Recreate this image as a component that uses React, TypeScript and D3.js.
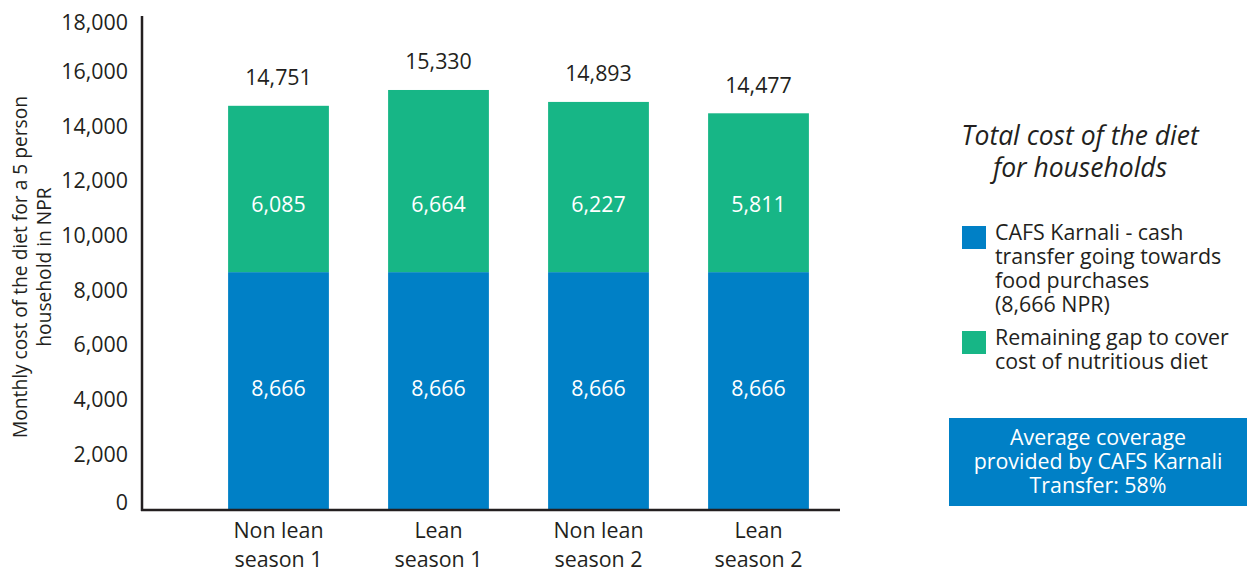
import React from "react";
import * as d3 from "d3";

const categories = [["Non lean", "season 1"], ["Lean", "season 1"], ["Non lean", "season 2"], ["Lean", "season 2"]];
const cafsValues = [8666, 8666, 8666, 8666];
const gapValues = [6085, 6664, 6227, 5811];
const totalValues = [14751, 15330, 14893, 14477];
const yTicks = [0, 2000, 4000, 6000, 8000, 10000, 12000, 14000, 16000, 18000];
const legendItems = [
  { key: "cafs", lines: ["CAFS Karnali - cash", "transfer going towards", "food purchases", "(8,666 NPR)"] },
  { key: "gap", lines: ["Remaining gap to cover", "cost of nutritious diet"] },
];
const titleLines = ["Total cost of the diet", "for households"];
const boxLines = ["Average coverage", "provided by CAFS Karnali", "Transfer: 58%"];
const yTitleLines = ["Monthly cost of the diet for a 5 person", "household in NPR"];

const BLUE = "#0080c6";
const GREEN = "#17b686";
const TEXT = "#231f20";
const FONT = "'Open Sans', 'Noto Sans', sans-serif";
const FS = 21.4;

export default function App() {
  const W = 1248, H = 572;
  const keys = categories.map((c) => c.join(" "));
  const x = d3.scaleBand<string>().domain(keys).range([198.5, 838.5]).paddingInner(0.37).paddingOuter(0.185);
  const y = d3.scaleLinear().domain([0, 18000]).range([509, 17]);
  const fmt = d3.format(",");
  const colors: Record<string, string> = { cafs: BLUE, gap: GREEN };

  return (
    <svg width={W} height={H} style={{ position: "absolute", left: 0, top: 0, fontFamily: FONT }}>
      <rect width={W} height={H} fill="#fff" />
      {/* y ticks */}
      {yTicks.map((t) => (
        <text key={t} x={128} y={y(t) + (t === 0 ? -6 : t === 18000 ? 6 : 0)} dy="0.35em" textAnchor="end" fontSize={FS} fill={TEXT}>
          {fmt(t)}
        </text>
      ))}
      {/* y title */}
      <g transform={`translate(20,267) rotate(-90)`}>
        {yTitleLines.map((l, i) => (
          <text key={i} x={0} y={i * 24} dy="0.35em" textAnchor="middle" fontSize={19.2} fill={TEXT}>
            {l}
          </text>
        ))}
      </g>
      {/* bars */}
      {keys.map((k, i) => {
        const x0 = x(k)!;
        const bw = x.bandwidth();
        const cx = x0 + bw / 2;
        const top = cafsValues[i] + gapValues[i];
        return (
          <g key={k}>
            <rect x={x0} y={y(cafsValues[i])} width={bw} height={y(0) - y(cafsValues[i])} fill={BLUE} />
            <rect x={x0} y={y(top)} width={bw} height={y(cafsValues[i]) - y(top)} fill={GREEN} />
            <text x={cx} y={(y(0) + y(cafsValues[i])) / 2 - 2} dy="0.35em" textAnchor="middle" fontSize={FS} fill="#fff">
              {fmt(cafsValues[i])}
            </text>
            <text x={cx} y={y(cafsValues[i]) - 68} dy="0.35em" textAnchor="middle" fontSize={FS} fill="#fff">
              {fmt(gapValues[i])}
            </text>
            <text x={cx} y={y(totalValues[i]) - 28} dy="0.35em" textAnchor="middle" fontSize={FS} fill={TEXT}>
              {fmt(totalValues[i])}
            </text>
            {categories[i].map((l, j) => (
              <text key={j} x={cx} y={531 + j * 29} dy="0.35em" textAnchor="middle" fontSize={FS} fill={TEXT}>
                {l}
              </text>
            ))}
          </g>
        );
      })}
      {/* axes */}
      <line x1={142} x2={142} y1={16} y2={511} stroke={TEXT} strokeWidth={2.5} />
      <line x1={141} x2={840} y1={510} y2={510} stroke={TEXT} strokeWidth={2.5} />
      {/* legend title */}
      {titleLines.map((l, i) => (
        <text key={i} x={1080} y={136 + i * 32} dy="0.35em" textAnchor="middle" fontSize={26.5} fontStyle="italic" fill={TEXT}>
          {l}
        </text>
      ))}
      {/* legend items */}
      {legendItems.map((it, i) => {
        const y0 = i === 0 ? 226 : 331;
        return (
          <g key={it.key}>
            <rect x={962} y={y0} width={24} height={23} fill={colors[it.key]} />
            {it.lines.map((l, j) => (
              <text key={j} x={995} y={y0 + 7 + j * 24} dy="0.35em" fontSize={FS} fill={TEXT}>
                {l}
              </text>
            ))}
          </g>
        );
      })}
      {/* box */}
      <rect x={949} y={418} width={298} height={88} fill={BLUE} />
      {boxLines.map((l, i) => (
        <text key={i} x={1098} y={438 + i * 24} dy="0.35em" textAnchor="middle" fontSize={FS} fill="#fff">
          {l}
        </text>
      ))}
    </svg>
  );
}
